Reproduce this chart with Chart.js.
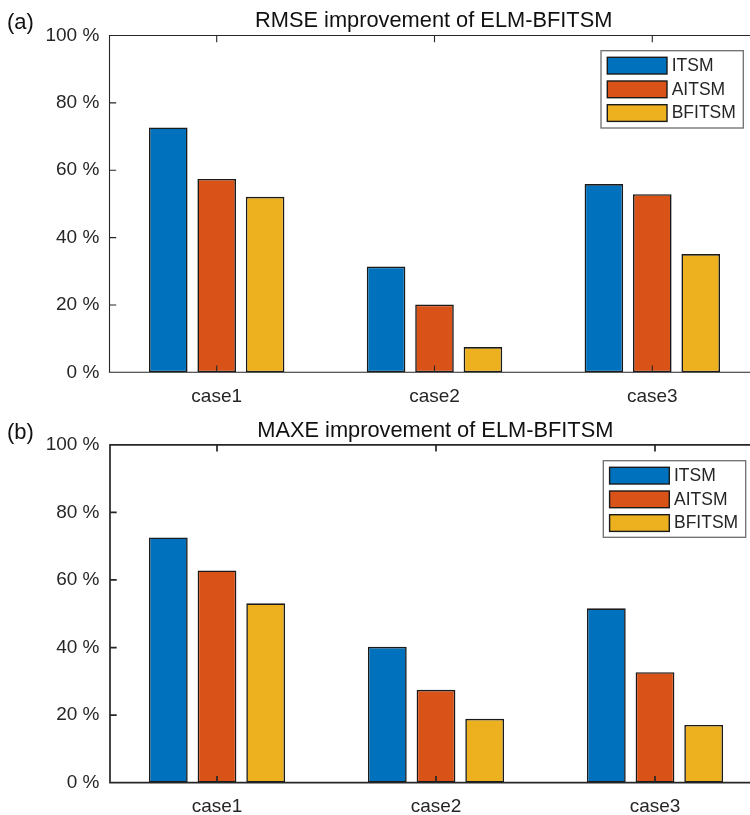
<!DOCTYPE html>
<html>
<head>
<meta charset="utf-8">
<script src="https://cdn.jsdelivr.net/npm/chart.js@4/dist/chart.umd.min.js"></script>
<style>
  html, body { margin: 0; padding: 0; background: #fff; overflow: hidden; width: 750px; height: 815px; }
  .panel { position: absolute; left: 0; width: 800px; height: 410px; }
  .panel canvas { display: block; }
  #p1 { top: 0; }
  #p2 { top: 410px; }
</style>
</head>
<body>
<div class="panel" id="p1"><canvas id="c1" width="800" height="410"></canvas></div>
<div class="panel" id="p2"><canvas id="c2" width="800" height="410"></canvas></div>
<script>
// Categories, series and tick labels
const categories = ['case1', 'case2', 'case3'];
const seriesNames = ['ITSM', 'AITSM', 'BFITSM'];
const yTicks = [0, 20, 40, 60, 80, 100];

// (a) RMSE improvement, percent
const rmseITSM   = [72.7, 31.4, 55.9];
const rmseAITSM  = [57.4, 20.1, 52.9];
const rmseBFITSM = [52.1, 7.5, 35.1];

// (b) MAXE improvement, percent
const maxeITSM   = [72.6, 40.2, 51.6];
const maxeAITSM  = [62.8, 27.5, 32.7];
const maxeBFITSM = [53.1, 18.9, 17.1];

const seriesColors = ['#0072BD', '#D95319', '#EDB120'];
const FONT = "'Liberation Sans', Arial, Helvetica, sans-serif";
const TEXT = '#262626';

// Box axes with inward tick marks, drawn over the bars
const axesPlugin = {
  id: 'boxAxes',
  afterDatasetsDraw(chart, args, opts) {
    const { ctx, chartArea: a, scales: { x, y } } = chart;
    const tl = 6.7;
    const left = opts.axisLeft;
    ctx.save();
    ctx.strokeStyle = TEXT;
    ctx.lineWidth = opts.lineWidth;
    ctx.beginPath();
    ctx.rect(left, a.top, a.right - left, a.bottom - a.top);
    y.ticks.forEach(t => {
      const py = y.getPixelForValue(t.value);
      ctx.moveTo(left, py); ctx.lineTo(left + tl, py);
      ctx.moveTo(a.right, py); ctx.lineTo(a.right - tl, py);
    });
    categories.forEach((c, i) => {
      const px = x.getPixelForValue(i);
      ctx.moveTo(px, a.bottom); ctx.lineTo(px, a.bottom - tl);
      ctx.moveTo(px, a.top); ctx.lineTo(px, a.top + tl);
    });
    ctx.stroke();
    ctx.restore();
  }
};

// Panel letter and centred title
const titlePlugin = {
  id: 'panelTitle',
  afterDraw(chart, args, opts) {
    const { ctx } = chart;
    ctx.save();
    ctx.fillStyle = '#111';
    ctx.textBaseline = 'alphabetic';
    ctx.font = `21.8px ${FONT}`;
    ctx.textAlign = 'center';
    ctx.fillText(opts.text, opts.cx, 26.7);
    ctx.font = `22px ${FONT}`;
    ctx.textAlign = 'left';
    ctx.fillText(opts.letter, 7, 28.7);
    ctx.restore();
  }
};

// Legend box in the upper right of the plot area
const legendPlugin = {
  id: 'insetLegend',
  afterDraw(chart, args, opts) {
    const { ctx } = chart;
    const { x0, y0, w, h } = opts;
    ctx.save();
    ctx.fillStyle = '#fff';
    ctx.fillRect(x0, y0, w, h);
    ctx.strokeStyle = '#6e6e6e';
    ctx.lineWidth = 1.3;
    ctx.strokeRect(x0, y0, w, h);
    ctx.font = `17.5px ${FONT}`;
    ctx.textBaseline = 'middle';
    ctx.textAlign = 'left';
    chart.data.datasets.forEach((ds, i) => {
      const sx = x0 + 6.3, sy = y0 + 6.6 + i * 23.7, sw = 59.7, sh = 16.7;
      ctx.fillStyle = ds.backgroundColor;
      ctx.fillRect(sx, sy, sw, sh);
      ctx.strokeStyle = '#1a1a1a';
      ctx.lineWidth = 1.4;
      ctx.strokeRect(sx, sy, sw, sh);
      ctx.fillStyle = TEXT;
      ctx.fillText(ds.label, sx + sw + 4.7, sy + sh / 2 + 0.5);
    });
    ctx.restore();
  }
};

function makeChart(id, cfg) {
  return new Chart(document.getElementById(id), {
    type: 'bar',
    data: {
      labels: categories,
      datasets: seriesNames.map((name, i) => ({
        label: name,
        data: cfg.values[i],
        backgroundColor: seriesColors[i],
        borderColor: '#1a1a1a',
        borderWidth: 1.6,
        borderSkipped: false,
        categoryPercentage: 0.667,
        barPercentage: 0.797
      }))
    },
    options: {
      responsive: false,
      animation: false,
      devicePixelRatio: 1,
      layout: { padding: cfg.padding },
      plugins: {
        legend: { display: false },
        tooltip: { enabled: false },
        title: { display: false },
        boxAxes: { lineWidth: cfg.axisWidth, axisLeft: cfg.axisLeft },
        panelTitle: { text: cfg.title, letter: cfg.letter, cx: cfg.titleX },
        insetLegend: cfg.legend
      },
      scales: {
        x: {
          type: 'category',
          offset: true,
          grid: { display: false, drawTicks: false },
          border: { display: false },
          ticks: { color: TEXT, font: { family: FONT, size: 19 }, padding: 13, maxRotation: 0 },
          afterFit(s) { s.height = 37; }
        },
        y: {
          min: 0,
          max: 100,
          grid: { display: false, drawTicks: false },
          border: { display: false },
          ticks: {
            color: TEXT,
            font: { family: FONT, size: 19 },
            padding: cfg.tickPad,
            callback: v => v + ' %'
          },
          afterBuildTicks(s) { s.ticks = yTicks.map(v => ({ value: v })); },
          afterFit(s) { s.width = 70; }
        }
      }
    },
    plugins: [axesPlugin, titlePlugin, legendPlugin]
  });
}

makeChart('c1', {
  values: [rmseITSM, rmseAITSM, rmseBFITSM],
  title: 'RMSE improvement of ELM-BFITSM',
  letter: '(a)',
  titleX: 433.7,
  axisWidth: 1.1,
  axisLeft: 109.5,
  tickPad: 8.5,
  padding: { left: 37.8, top: 35.5, right: 38.8, bottom: 0.7 },
  legend: { x0: 601, y0: 50.7, w: 142.3, h: 77.3 }
});

makeChart('c2', {
  values: [maxeITSM, maxeAITSM, maxeBFITSM],
  title: 'MAXE improvement of ELM-BFITSM',
  letter: '(b)',
  titleX: 435.3,
  axisWidth: 1.7,
  axisLeft: 110,
  tickPad: 8,
  padding: { left: 37.5, top: 34.8, right: 35.5, bottom: 0.3 },
  legend: { x0: 603.3, y0: 50.7, w: 142.4, h: 76.6 }
});
</script>
</body>
</html>
